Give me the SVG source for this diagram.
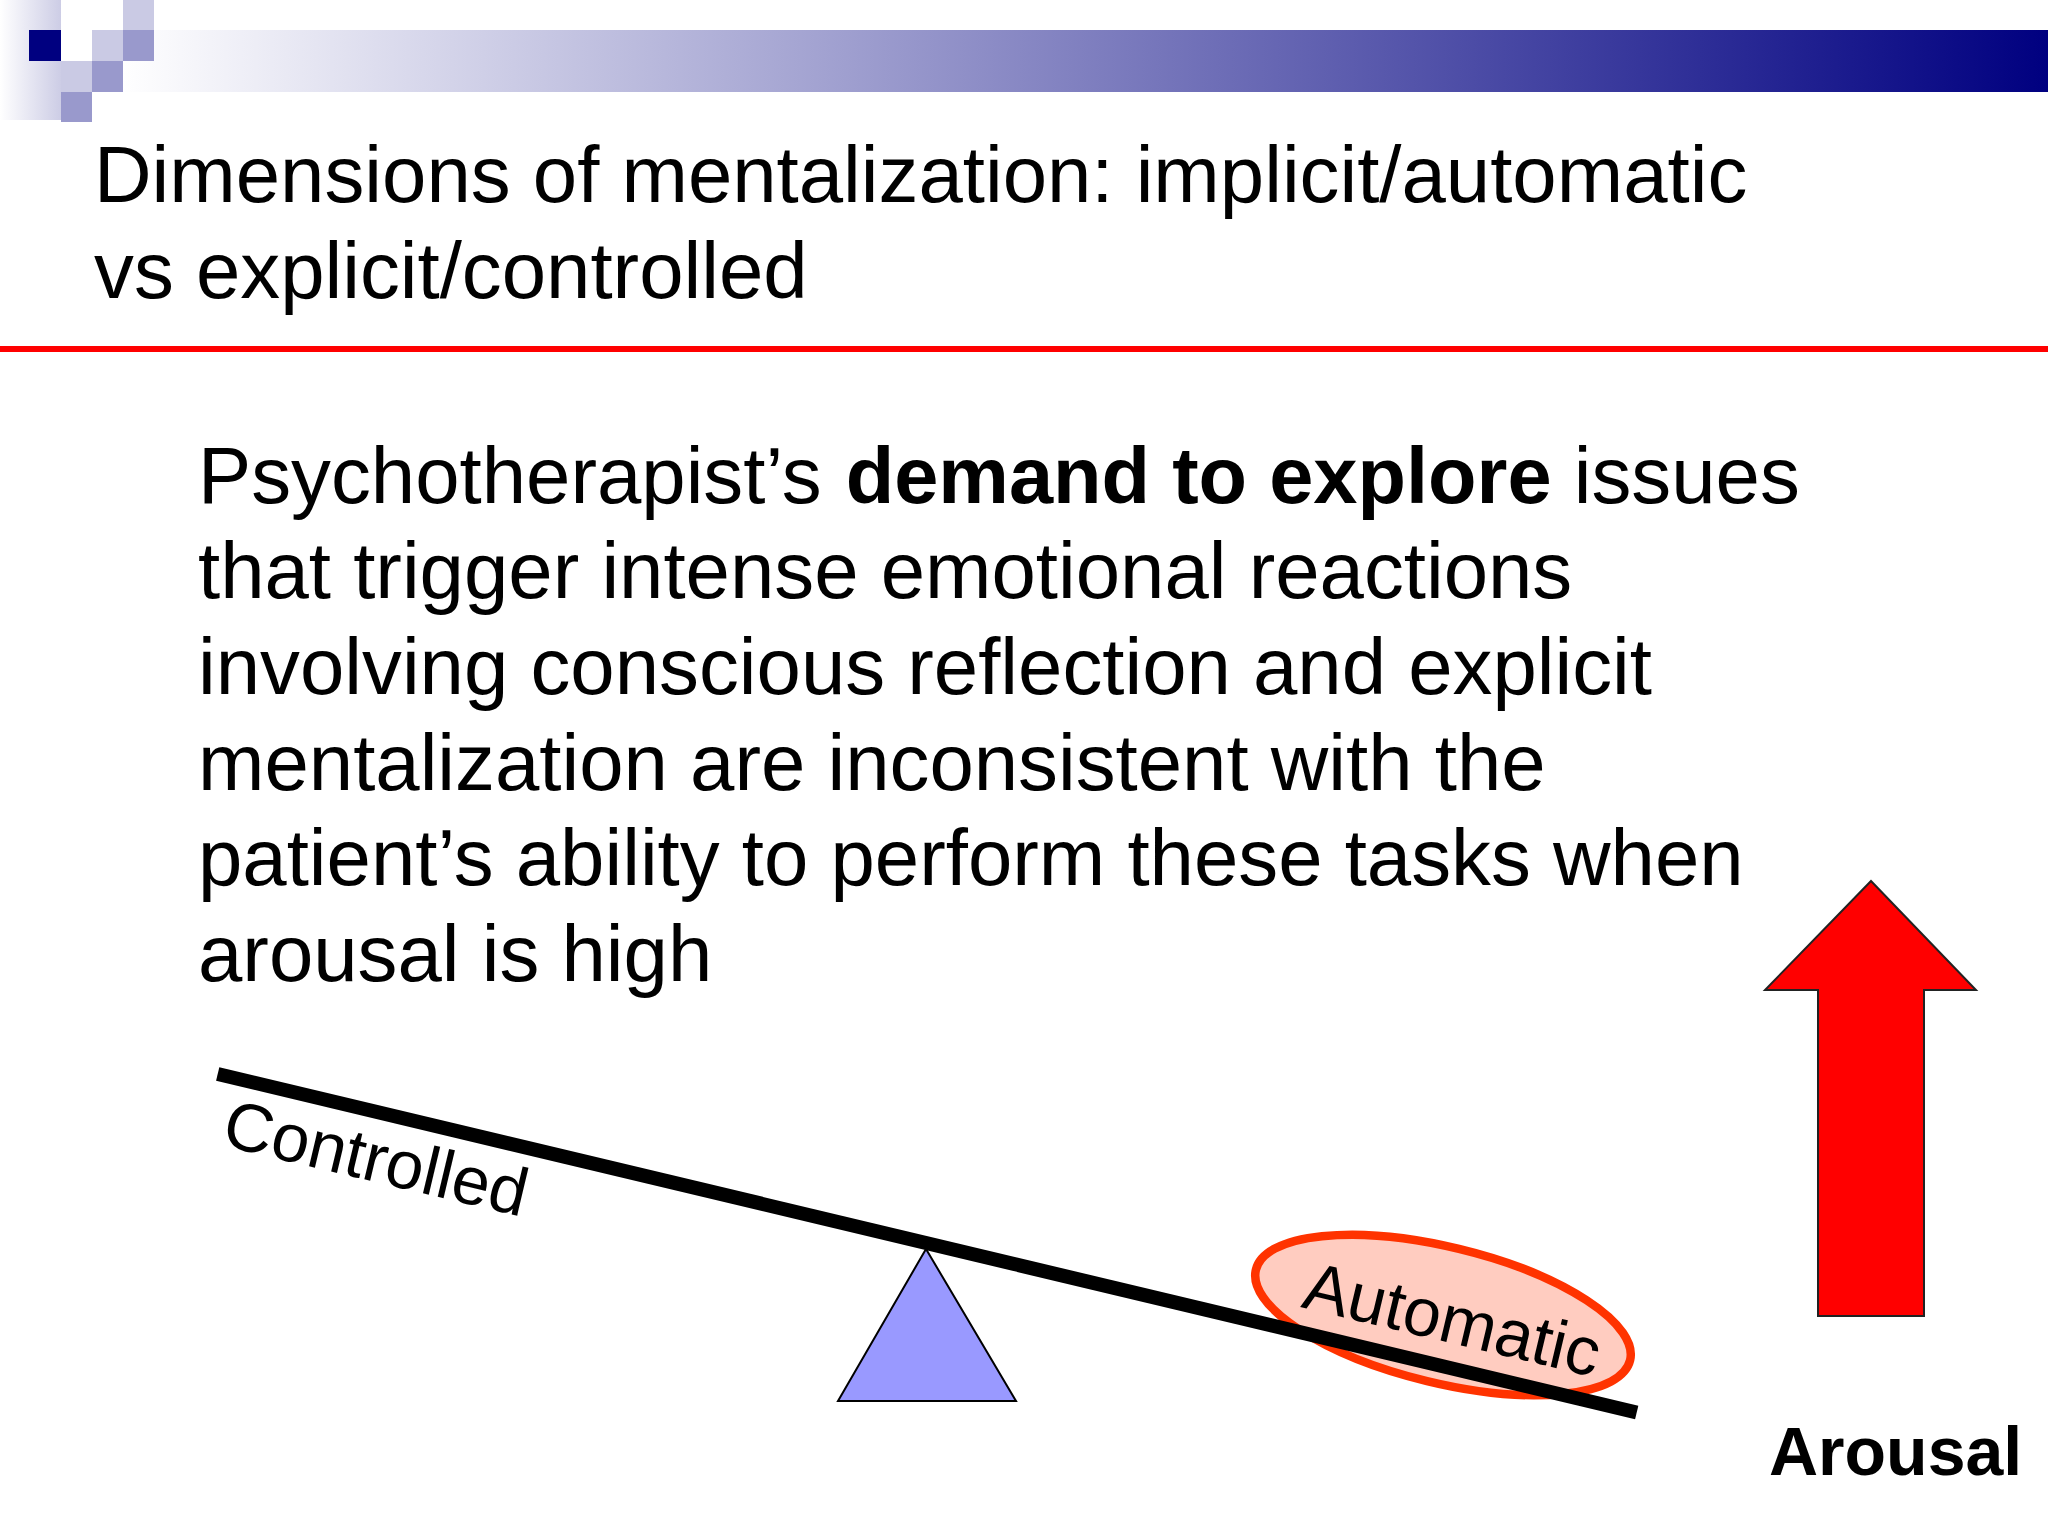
<svg xmlns="http://www.w3.org/2000/svg" width="2048" height="1536" viewBox="0 0 2048 1536">
<style>
text{font-family:"Liberation Sans",Arial,sans-serif;fill:#000}
.t{font-size:79.75px}
.l{font-size:68px}
.b{font-weight:700}
.lt{fill:#cacae4}
.md{fill:#9999cc}
</style>
<defs>
<linearGradient id="band" gradientUnits="userSpaceOnUse" x1="120" y1="0" x2="2048" y2="0"><stop offset="0" stop-color="#fff"/><stop offset="1" stop-color="#000080"/></linearGradient>
<linearGradient id="side" gradientUnits="userSpaceOnUse" x1="0" y1="0" x2="64" y2="0"><stop offset="0" stop-color="#fff"/><stop offset="1" stop-color="#cacae4"/></linearGradient>
</defs>
<rect width="2048" height="1536" fill="#fff"/>
<g id="header">
<rect x="154" y="30" width="1894" height="62" fill="url(#band)"/>
<rect x="123" y="61" width="31" height="31" fill="url(#band)"/>
<rect x="0" y="0" width="61" height="120" fill="url(#side)"/>
<rect x="29" y="30" width="32" height="31" fill="#000080"/>
<rect class="lt" x="123" y="0" width="31" height="30"/>
<rect class="lt" x="92" y="30" width="31" height="31"/>
<rect class="md" x="123" y="30" width="31" height="31"/>
<rect class="lt" x="61" y="61" width="31" height="31"/>
<rect class="md" x="92" y="61" width="31" height="31"/>
<rect class="md" x="61" y="92" width="31" height="30"/>
</g>
<g id="title">
<text class="t" x="94" y="202">Dimensions of mentalization: implicit/automatic</text>
<text class="t" x="94" y="298">vs explicit/controlled</text>
</g>
<rect id="rule" x="0" y="346" width="2048" height="6" fill="#ff0000"/>
<g id="body">
<text class="t" x="198" y="503">Psychotherapist’s <tspan class="b" dx="2" style="font-size:79.4px">demand to explore</tspan> issues</text>
<text class="t" x="198" y="598">that trigger intense emotional reactions</text>
<text class="t" x="198" y="694">involving conscious reflection and explicit</text>
<text class="t" x="198" y="790">mentalization are inconsistent with the</text>
<text class="t" x="198" y="885">patient’s ability to perform these tasks when</text>
<text class="t" x="198" y="981">arousal is high</text>
</g>
<g id="automatic-ellipse"><ellipse cx="1443" cy="1315" rx="192.5" ry="68" transform="rotate(13.6 1443 1315)" fill="#ffccc0" stroke="#ff3300" stroke-width="8.5"/></g>
<g id="fulcrum"><polygon points="926,1249 838,1401 1016,1401" fill="#9999ff" stroke="#000" stroke-width="2"/></g>
<g id="connectors"><line x1="217.7" y1="1074" x2="1636.7" y2="1412.5" stroke="#000" stroke-width="14"/></g>
<g id="controlled"><text class="l" transform="translate(220 1145) rotate(13.4)">Controlled</text></g>
<g id="automatic"><text class="l" transform="translate(1300 1307) rotate(13.4)">Automatic</text></g>
<g id="arrow"><polygon points="1871,881 1976,990 1924,990 1924,1316 1818,1316 1818,990 1765,990" fill="#ff0000" stroke="#222" stroke-width="2"/></g>
<g id="arousal"><text class="l b" x="1769" y="1475">Arousal</text></g>
</svg>
